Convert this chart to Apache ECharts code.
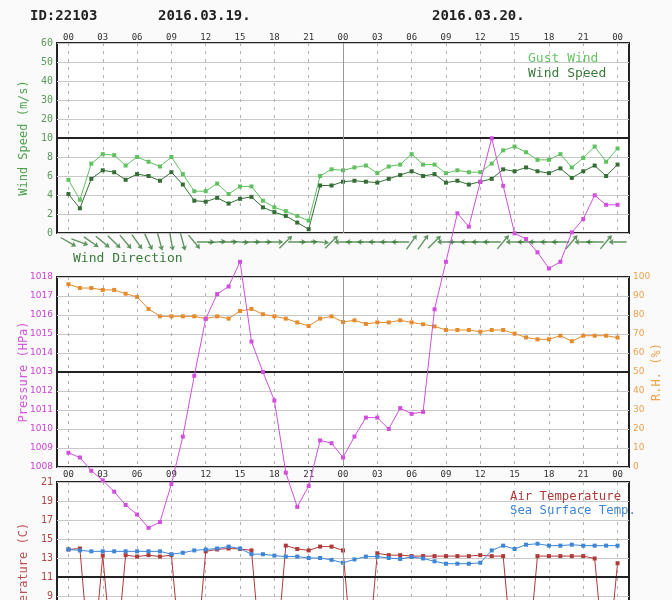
<!DOCTYPE html>
<html>
<head>
<meta charset="utf-8">
<script src="https://cdn.jsdelivr.net/npm/echarts@6/dist/echarts.min.js"></script>
<style>
html, body { margin: 0; padding: 0; background: #fafafa; overflow: hidden; }
/* taller than the window: the temperature panel runs past the bottom edge */
#box { width: 672px; height: 680px; }
</style>
</head>
<body>
<div id="box"></div>
<script>
// hour categories: one padding hour before 19th 00h and after 21st 00h
const hours = ['23',
  '00','01','02','03','04','05','06','07','08','09','10','11','12','13','14','15','16','17','18','19','20','21','22','23',
  '00','01','02','03','04','05','06','07','08','09','10','11','12','13','14','15','16','17','18','19','20','21','22','23',
  '00','01'];

// 2016.03.19 00h .. 2016.03.21 00h, hourly
const gustWind = [5.6,3.5,7.3,8.3,8.2,7.1,8.0,7.5,7.0,8.0,6.2,4.4,4.4,5.2,4.1,4.9,4.9,3.4,2.7,2.3,1.8,1.3,6.0,6.7,
  6.6,6.9,7.1,6.3,7.0,7.2,8.3,7.2,7.2,6.3,6.6,6.4,6.4,7.3,8.7,9.1,8.5,7.7,7.7,8.3,6.9,7.9,9.1,7.5,8.9];
const windSpeed = [4.1,2.6,5.7,6.6,6.4,5.6,6.2,6.0,5.5,6.4,5.1,3.4,3.3,3.7,3.1,3.6,3.8,2.7,2.2,1.8,1.1,0.4,5.0,5.0,
  5.4,5.5,5.4,5.3,5.7,6.1,6.5,6.0,6.2,5.3,5.5,5.1,5.4,5.7,6.7,6.5,6.9,6.5,6.3,6.8,5.8,6.5,7.1,6.0,7.2];
// direction the wind comes from, degrees
const windDir = [300,290,305,310,315,320,325,335,345,350,345,320,270,265,270,275,270,270,270,225,270,270,275,225,
  90,90,90,90,90,90,215,215,225,90,90,90,90,90,220,90,90,90,90,90,220,90,90,220,90];
const pressure = [1008.75,1008.5,1007.8,1007.3,1006.7,1006.0,1005.5,1004.8,1005.1,1007.1,1009.6,1012.8,1015.8,1017.1,1017.5,1018.8,1014.6,1013.0,1011.5,1007.7,1005.9,1007.0,1009.4,1009.25,
  1008.5,1009.6,1010.6,1010.6,1010.0,1011.1,1010.8,1010.9,1016.3,1018.8,1021.35,1020.65,1023.0,1025.3,1022.8,1020.3,1020.0,1019.3,1018.45,1018.8,1020.35,1021.05,1022.3,1021.8,1021.8];
const humidity = [96.2,94.2,94.2,93.2,93.2,91.2,89.5,83.2,79.3,79.3,79.3,79.3,78.1,79.3,78.1,82.1,83.2,80.4,79.3,78.1,76.1,74.2,78.1,79.3,
  76.3,77.2,75.3,76.1,76.1,77.2,76.1,75.1,74.0,72.1,72.1,72.1,71.2,72.1,72.1,70.2,68.2,67.2,67.2,69.1,66.2,69.1,69.1,69.1,68.1];
// 0 = missing reading (drawn as a drop, as in the source plot)
const airTemp = [13.9,14.0,0,13.25,0,13.3,13.15,13.3,13.15,13.3,0,0,13.7,13.9,14.0,13.95,13.8,0,0,14.3,13.95,13.8,14.2,14.2,
  13.8,0,0,13.5,13.3,13.3,13.2,13.2,13.2,13.2,13.2,13.2,13.3,13.2,13.2,0,0,13.2,13.2,13.2,13.2,13.2,12.95,0,12.45];
const seaTemp = [13.9,13.8,13.7,13.7,13.7,13.7,13.7,13.7,13.7,13.4,13.55,13.8,13.9,14.0,14.2,14.0,13.4,13.4,13.25,13.15,13.15,13.0,13.0,12.8,
  12.5,12.85,13.15,13.15,13.0,12.9,13.1,12.95,12.65,12.4,12.4,12.4,12.5,13.8,14.3,13.95,14.4,14.5,14.3,14.3,14.4,14.3,14.3,14.3,14.3];

const MONO = 'DejaVu Sans Mono';
const SANS = 'DejaVu Sans';
const dayIdx = hours.indexOf('00', 2);

let myChart = echarts.init(document.getElementById('box'));

function pairs(arr) {
  return arr.map((v, i) => [i + 1, v]);
}
function tickShown(idx) {
  return idx >= 1 && idx <= 49 && (idx - 1) % 3 === 0;
}
function xAxis(grid, extra) {
  return Object.assign({
    type: 'category',
    gridIndex: grid,
    data: hours,
    boundaryGap: false,
    axisLine: { show: false },
    axisTick: { show: false },
    axisLabel: { show: false, interval: tickShown },
    splitLine: { show: true, interval: tickShown, lineStyle: { color: '#b0b0b0', type: [3, 5], width: 1 } }
  }, extra);
}
function refLines(y) {
  return {
    silent: true,
    symbol: 'none',
    label: { show: false },
    data: [
      { yAxis: y, lineStyle: { color: '#222', width: 2, type: 'solid' } },
      { xAxis: dayIdx, lineStyle: { color: '#999', width: 1, type: 'solid' } }
    ]
  };
}
function line(name, color, xi, yi, data, extra) {
  return Object.assign({
    name: name,
    type: 'line',
    xAxisIndex: xi,
    yAxisIndex: yi,
    data: pairs(data),
    symbol: 'rect',
    symbolSize: 4,
    showSymbol: true,
    color: color,
    lineStyle: { width: 1, color: color },
    itemStyle: { color: color },
    animation: false
  }, extra);
}

const gridBox = { show: true, borderColor: '#222', borderWidth: 2, backgroundColor: '#fff' };
const nameStyle = (c) => ({ color: c, fontFamily: MONO, fontSize: 12 });
const hourLabel = (m) => ({ show: true, interval: tickShown, color: '#333', fontFamily: MONO, fontSize: 9, margin: m });

let option = {
  animation: false,
  textStyle: { fontFamily: MONO },
  graphic: [
    { type: 'text', left: 30, top: 9, style: { text: 'ID:22103', font: 'bold 14px "DejaVu Sans Mono"', fill: '#222' } },
    { type: 'text', left: 158, top: 9, style: { text: '2016.03.19.', font: 'bold 14px "DejaVu Sans Mono"', fill: '#222' } },
    { type: 'text', left: 432, top: 9, style: { text: '2016.03.20.', font: 'bold 14px "DejaVu Sans Mono"', fill: '#222' } },
    { type: 'text', left: 73, top: 252, style: { text: 'Wind Direction', font: '13px "DejaVu Sans Mono"', fill: '#3a7a3a' } }
  ],
  legend: [
    {
      data: [
        { name: 'Gust Wind', textStyle: { color: '#66c466' } },
        { name: 'Wind Speed', textStyle: { color: '#3a7a3a' } }
      ],
      orient: 'vertical', left: 518, top: 47, icon: 'none', itemWidth: 0, itemHeight: 0, itemGap: 2,
      selectedMode: false, textStyle: { fontFamily: MONO, fontSize: 13 }
    },
    {
      data: [
        { name: 'Air Temperature', textStyle: { color: '#b03a3a' } },
        { name: 'Sea Surface Temp.', textStyle: { color: '#3d85d6' } }
      ],
      orient: 'vertical', left: 500, top: 486, icon: 'none', itemWidth: 0, itemHeight: 0, itemGap: 2,
      selectedMode: false, textStyle: { fontFamily: MONO, fontSize: 12.3 }
    }
  ],
  grid: [
    Object.assign({ left: 57, top: 43, width: 572, height: 190 }, gridBox),
    { left: 57, top: 234, width: 572, height: 16 },
    Object.assign({ left: 57, top: 277, width: 572, height: 190 }, gridBox),
    Object.assign({ left: 57, top: 482, width: 572, height: 190 }, gridBox)
  ],
  xAxis: [
    xAxis(0, { position: 'top', axisLabel: hourLabel(1) }),
    xAxis(1, { show: false }),
    xAxis(2, { position: 'bottom', axisLabel: hourLabel(3) }),
    xAxis(3, {})
  ],
  yAxis: [
    {
      type: 'value', gridIndex: 0, min: 0, max: 20, interval: 2,
      axisLine: { show: false }, axisTick: { show: false },
      axisLabel: {
        color: '#5a9a5a', fontFamily: MONO, fontSize: 10, margin: 4,
        // upper half is compressed: 10..60 m/s
        formatter: v => String(v <= 10 ? v : (v - 10) * 5 + 10)
      },
      splitLine: { lineStyle: { color: '#c8c8c8' } },
      name: 'Wind Speed (m/s)', nameLocation: 'middle', nameRotate: 90, nameGap: 27, nameMoveOverlap: false,
      nameTextStyle: nameStyle('#4ea24e')
    },
    { type: 'value', gridIndex: 1, min: 0, max: 1, show: false },
    {
      type: 'value', gridIndex: 2, min: 1008, max: 1018, interval: 1,
      axisLine: { show: false }, axisTick: { show: false },
      axisLabel: { color: '#cc44d4', fontFamily: SANS, fontSize: 9, margin: 4, formatter: v => String(v) },
      splitLine: { lineStyle: { color: '#c8c8c8' } },
      name: 'Pressure (HPa)', nameLocation: 'middle', nameRotate: 90, nameGap: 27, nameMoveOverlap: false,
      nameTextStyle: nameStyle('#d455dc')
    },
    {
      type: 'value', gridIndex: 2, position: 'right', min: 0, max: 100, interval: 10,
      axisLine: { show: false }, axisTick: { show: false },
      axisLabel: { color: '#eba14e', fontFamily: SANS, fontSize: 9, margin: 4 },
      splitLine: { show: false },
      name: 'R.H. (%)', nameLocation: 'middle', nameRotate: 90, nameGap: 22, nameMoveOverlap: false,
      nameTextStyle: nameStyle('#eba14e')
    },
    {
      type: 'value', gridIndex: 3, min: 1, max: 21, interval: 2,
      axisLine: { show: false }, axisTick: { show: false },
      axisLabel: { color: '#a84848', fontFamily: MONO, fontSize: 10, margin: 4 },
      splitLine: { lineStyle: { color: '#c8c8c8' } },
      name: 'Temperature (C)', nameLocation: 'middle', nameRotate: 90, nameGap: 27, nameMoveOverlap: false,
      nameTextStyle: nameStyle('#c05050')
    }
  ],
  series: [
    line('Gust Wind', '#5fc15f', 0, 0, gustWind, { markLine: refLines(10) }),
    line('Wind Speed', '#356e35', 0, 0, windSpeed),
    {
      name: 'Wind Direction',
      type: 'scatter',
      xAxisIndex: 1,
      yAxisIndex: 1,
      symbol: 'path://M3,0 L6,7 L3.7,6 L3.7,26 L2.3,26 L2.3,6 L0,7 Z',
      symbolSize: [6, 18],
      itemStyle: { color: '#3a7a3a' },
      data: windDir.map((d, i) => ({ value: [i + 1, 0.5], symbolRotate: -(d + 180) })),
      animation: false
    },
    line('R.H.', '#e58b2e', 2, 3, humidity, { markLine: refLines(50) }),
    line('Pressure', '#d14fdc', 2, 2, pressure, { clip: false, z: 5 }),
    line('Air Temperature', '#b03a3a', 3, 4, airTemp, { markLine: refLines(11) }),
    line('Sea Surface Temp.', '#3d85d6', 3, 4, seaTemp)
  ]
};

myChart.setOption(option);
</script>
</body>
</html>
